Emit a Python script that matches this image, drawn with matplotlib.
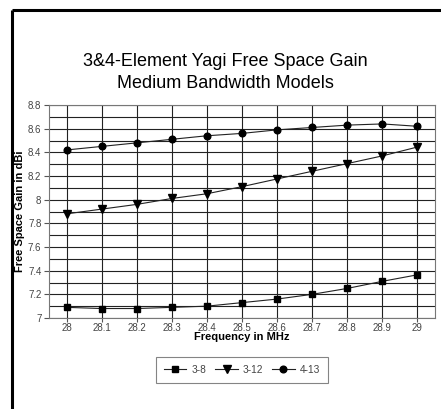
import matplotlib
matplotlib.use("Agg")
import matplotlib.pyplot as plt
from matplotlib.lines import Line2D
import numpy as np

plt.rcParams['font.family'] = ['Liberation Sans', 'DejaVu Sans']

freqs = [28.0, 28.1, 28.2, 28.3, 28.4, 28.5, 28.6, 28.7, 28.8, 28.9, 29.0]
xtick_labels = ["28", "28.1", "28.2", "28.3", "28.4", "28.5", "28.6", "28.7", "28.8", "28.9", "29"]
gain_3_8 = [7.09, 7.08, 7.08, 7.09, 7.10, 7.13, 7.16, 7.20, 7.25, 7.31, 7.365]
gain_3_12 = [7.88, 7.92, 7.96, 8.01, 8.05, 8.11, 8.175, 8.24, 8.305, 8.37, 8.445]
gain_4_13 = [8.42, 8.45, 8.48, 8.51, 8.54, 8.56, 8.59, 8.61, 8.63, 8.64, 8.62]
ytick_vals = [7.0, 7.2, 7.4, 7.6, 7.8, 8.0, 8.2, 8.4, 8.6, 8.8]
ytick_labels = ["7", "7.2", "7.4", "7.6", "7.8", "8", "8.2", "8.4", "8.6", "8.8"]
series_names = ["3-8", "3-12", "4-13"]

W, H = 441, 409
fig = plt.figure(figsize=(W / 100, H / 100), dpi=100)
fig.patch.set_facecolor('white')

# outer frame lines (left and top)
fig.add_artist(Line2D([11.5 / W, 11.5 / W], [0, 1 - 10 / H], transform=fig.transFigure,
                      color='black', lw=2.2, solid_capstyle='butt'))
fig.add_artist(Line2D([11.5 / W, 1], [1 - 10 / H, 1 - 10 / H], transform=fig.transFigure,
                      color='black', lw=2.2, solid_capstyle='butt'))

ax_w = 435 - 49
ax_h = 318 - 105
ax = fig.add_axes([49 / W, 1 - 318 / H, ax_w / W, ax_h / H])

ax.set_xlim(27.95, 29.05)
ax.set_ylim(7.0, 8.8)

ax.set_xticks(freqs)
ax.set_xticklabels(xtick_labels)
ax.set_yticks(ytick_vals)
ax.set_yticklabels(ytick_labels)
ax.set_yticks(np.arange(7.1, 8.8, 0.2), minor=True)

ax.grid(True, which='major', axis='both', color='#222222', lw=0.8)
ax.grid(True, which='minor', axis='y', color='#222222', lw=0.8)
ax.set_axisbelow(True)

ax.tick_params(axis='both', which='major', labelsize=7, labelcolor='#444444', color='#555555',
               length=3.5, width=0.8, direction='out', pad=2)
ax.tick_params(axis='x', which='major', pad=0.8, length=3)
ax.tick_params(axis='y', which='minor', length=0)
for s in ax.spines.values():
    s.set_color('#777777')
    s.set_linewidth(0.8)

l1, = ax.plot(freqs, gain_3_8, color='#222222', lw=0.8, marker='s', ms=4.6, mfc='black', mec='black')
l2, = ax.plot(freqs, gain_3_12, color='#222222', lw=0.8, marker='v', ms=5.6, mfc='black', mec='black')
l3, = ax.plot(freqs, gain_4_13, color='#222222', lw=0.8, marker='o', ms=4.8, mfc='black', mec='black')

ax.set_ylabel("Free Space Gain in dBi", fontsize=8, fontweight='bold')
ax.yaxis.set_label_coords((20 - 49) / ax_w, 0.5)
ax.yaxis.label.set_va('center')
ax.set_xlabel("Frequency in MHz", fontsize=8, fontweight='bold')
ax.xaxis.set_label_coords(0.5, -(332 - 318) / ax_h)
ax.xaxis.label.set_va('top')

fig.text(225 / W, 1 - 62 / H, "3&4-Element Yagi Free Space Gain", ha='center', va='center', fontsize=13)
fig.text(225 / W, 1 - 84 / H, "Medium Bandwidth Models", ha='center', va='center', fontsize=13)

leg = fig.legend([l1, l2, l3], series_names, loc='center', bbox_to_anchor=(242 / W, 1 - 370 / H),
                 ncol=3, fontsize=7.3, frameon=True, fancybox=False, handlelength=2.2,
                 columnspacing=0.9, handletextpad=0.5, borderpad=0.75, markerscale=1.0)
leg.get_frame().set_edgecolor('#666666')
leg.get_frame().set_linewidth(0.8)
for t in leg.get_texts():
    t.set_color('#444444')

fig.savefig("out.png", dpi=100)
